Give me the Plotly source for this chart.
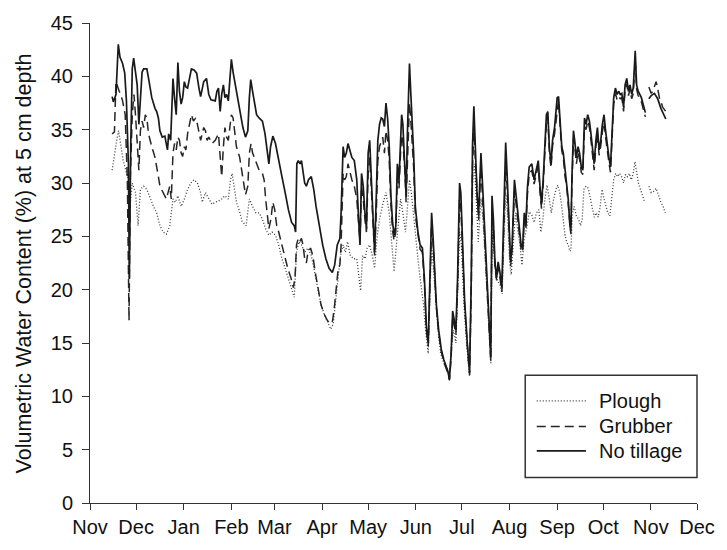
import pandas as pd
import plotly.graph_objects as go

# Daily soil moisture readings, as days after 1 November (first season)
START = pd.Timestamp("2009-11-01")

NT_DAYS = [14.4, 15.2, 16.9, 18.4, 19.5, 21.2, 22.6, 23.7, 25.0, 25.6, 26.5, 27.5, 28.4, 29.6, 30.7,
           31.8, 32.8, 33.9, 34.9, 37.0, 38.1, 40.2, 42.3, 43.4, 44.5, 45.5, 47.0, 48.7, 50.4, 51.2,
           52.5, 54.0, 55.0, 56.1, 57.2, 58.2, 59.3, 60.3, 61.4, 62.4, 63.5, 64.6, 66.0, 67.7, 69.4,
           70.9, 72.0, 74.0, 75.8, 77.3, 78.7, 81.5, 82.6, 83.6, 84.7, 85.7, 86.8, 87.8, 88.9, 90.0,
           91.0, 92.0, 93.1, 94.2, 95.3, 96.3, 97.4, 99.5, 101.2, 102.7, 103.7, 104.6, 105.8, 106.9,
           108.4, 110.0, 112.2, 113.9, 115.4, 116.4, 117.5, 119.0, 120.7, 122.3, 124.9, 127.0, 129.1,
           131.2, 132.9, 133.8, 134.6, 135.5, 136.7, 137.6, 138.6, 139.7, 140.8, 142.2, 144.0, 145.6,
           147.1, 149.2, 151.4, 153.5, 155.6, 157.7, 159.2, 160.9, 162.6, 163.4, 164.7, 165.7, 166.8,
           167.9, 168.9, 170.4, 172.0, 173.6, 174.6, 175.7, 176.7, 177.8, 178.9, 179.9, 181.0, 182.0,
           183.1, 184.2, 185.2, 186.3, 187.3, 188.4, 189.5, 190.5, 191.6, 192.6, 193.7, 194.7, 195.8,
           196.9, 197.9, 199.0, 200.0, 201.1, 202.1, 202.8, 203.6, 204.9, 205.7, 206.6, 207.9, 208.7,
           209.6, 210.6, 211.7, 213.4, 214.8, 216.3, 217.6, 218.9, 220.1, 221.2, 222.3, 223.3, 224.4,
           225.4, 226.9, 228.6, 230.3, 231.8, 232.8, 233.9, 235.0, 236.0, 237.1, 238.1, 239.2, 240.5,
           241.3, 242.4, 243.8, 245.5, 247.0, 248.1, 248.9, 249.8, 250.8, 251.9, 252.9, 254.4, 255.7,
           257.2, 258.7, 259.9, 260.8, 261.6, 262.5, 263.5, 264.6, 265.6, 266.7, 268.0, 269.2, 270.5,
           271.4, 272.6, 273.7, 274.7, 276.2, 277.3, 278.3, 279.4, 280.5, 281.5, 282.6, 283.6, 284.7,
           285.8, 287.5, 289.0, 290.5, 291.7, 292.8, 293.8, 294.9, 296.0, 297.0, 297.9, 298.9, 300.0,
           301.0, 302.3, 303.2, 304.0, 304.9, 305.9, 307.0, 308.0, 309.1, 310.1, 311.2, 312.3, 312.9,
           313.7, 314.6, 315.4, 316.5, 317.6, 318.6, 319.7, 320.7, 321.8, 322.8, 323.9, 325.0, 326.0,
           327.1, 328.1, 329.2, 330.2, 331.3, 332.4, 333.4, 334.5, 335.5, 336.6, 337.7, 338.7, 339.8,
           340.8, 341.9, 343.0, 344.0, 345.1, 346.1, 347.2, 348.2, 349.3, 350.4, 351.4, 352.5, 353.5,
           354.2, 354.8, 355.7, 356.7, 357.8, 358.8, 359.9, 361.4, 362.5, 363.7, 365.2, 367.3, 369.4,
           371.5, 372.6, 373.7, 374.7]
NT_VALS = [38.1, 37.6, 38.3, 43.0, 41.8, 41.2, 40.3, 37.7, 31.8, 21.0, 33.4, 40.7, 41.7, 40.4, 39.2,
           35.5, 37.7, 40.4, 40.7, 40.7, 39.8, 38.0, 37.0, 36.7, 36.1, 34.9, 34.3, 34.4, 33.1, 34.6,
           34.0, 39.8, 38.0, 36.4, 41.3, 38.6, 37.4, 38.0, 39.5, 39.0, 38.9, 39.8, 40.7, 40.6, 40.3,
           38.9, 38.1, 39.5, 39.8, 38.3, 37.8, 37.7, 38.6, 38.9, 36.7, 38.3, 39.2, 38.0, 38.3, 37.7,
           40.1, 41.6, 40.4, 39.5, 38.8, 38.0, 37.2, 35.2, 34.3, 34.9, 38.0, 39.7, 38.6, 37.7,
           36.4, 36.1, 35.8, 34.6, 33.1, 31.8, 33.4, 34.4, 33.7, 32.4, 30.6, 29.1, 27.5,
           26.3, 26.0, 25.4, 31.8, 32.1, 31.8, 32.1, 31.2, 30.0, 29.7, 30.3, 30.6, 29.4,
           27.8, 26.0, 24.2, 22.9, 22.0, 21.6, 22.3, 24.2, 24.8, 27.2, 33.4, 32.4, 32.8,
           33.7, 33.1, 32.4, 32.1, 30.3, 27.2, 24.2, 30.9, 29.7, 27.2, 25.7, 32.8, 34.0,
           30.3, 27.2, 23.5, 28.8, 34.0, 35.5, 36.1, 36.0, 35.3, 37.5, 36.0, 33.5, 28.8,
           26.3, 25.1, 26.0, 31.8, 30.3, 34.0, 36.4, 35.5, 32.1, 28.8, 34.9, 41.2, 38.6,
           36.4, 32.8, 27.8, 25.4, 24.2, 23.9, 21.1, 16.5, 15.0, 21.1, 27.2, 24.8, 21.4,
           18.6, 16.2, 14.4, 13.4, 12.8, 12.4, 11.6, 14.0, 18.0, 16.8, 16.2, 21.1, 30.0,
           29.1, 24.2, 18.9, 15.0, 12.2, 21.1, 33.4, 37.2, 33.4, 28.8, 27.2, 32.8, 29.1,
           24.2, 19.6, 16.5, 13.7, 28.8, 26.6, 22.6, 21.1, 22.6, 21.7, 20.2, 27.2, 33.8,
           30.9, 25.7, 22.6, 24.2, 30.3, 28.8, 27.2, 26.0, 24.2, 23.9, 27.2, 26.0, 29.7,
           31.5, 31.8, 30.3, 31.5, 32.1, 29.7, 28.0, 30.3, 34.0, 36.4, 36.7, 33.4, 31.8,
           34.0, 35.2, 36.4, 38.0, 38.1, 35.8, 33.4, 32.8, 31.2, 30.3, 28.5, 26.0, 25.5,
           30.9, 34.9, 34.0, 32.4, 33.4, 32.8, 31.5, 31.2, 36.1, 35.5, 36.4, 35.8, 34.6,
           32.8, 31.8, 34.0, 35.2, 33.1, 34.0, 35.5, 36.4, 34.9, 33.4, 32.4, 31.5, 35.2,
           38.0, 38.9, 38.3, 38.6, 38.3, 38.4, 37.1, 39.2, 39.8, 38.6, 39.2, 38.3, 38.9,
           40.7, 42.4, 39.2, 38.6, 38.3, 38.0, 37.4, 36.6, None, 37.9, 38.2, 38.4, 37.9,
           37.0, 36.6, 36.2, 36.0]

GR_DAYS = [14.4, 15.9, 16.9, 18.0, 19.0, 20.0, 21.2, 22.9, 24.3, 25.4, 26.2, 27.5, 28.6, 29.6, 30.7,
           31.8, 32.8, 33.9, 34.9, 36.0, 37.0, 38.1, 40.2, 42.3, 44.5, 45.5, 47.6, 49.7, 50.8, 51.9,
           52.9, 54.0, 55.0, 56.1, 57.2, 58.2, 59.3, 60.3, 61.4, 62.4, 63.5, 64.6, 66.0, 67.3, 68.8,
           69.9, 72.0, 74.0, 75.1, 76.2, 77.3, 79.4, 81.5, 83.6, 84.7, 85.7, 86.8, 87.8, 88.9, 90.0,
           91.0, 92.0, 93.1, 94.2, 95.3, 97.4, 99.5, 101.2, 102.7, 103.7, 104.8, 105.8, 106.9, 108.4,
           110.1, 112.2, 113.3, 114.3, 115.4, 116.4, 117.7, 119.0, 120.2, 121.5, 122.8, 124.5, 126.6,
           128.7, 130.8, 132.3, 133.4, 134.4, 135.5, 136.5, 137.6, 138.6, 139.7, 140.8, 141.8, 143.5,
           145.0, 146.5, 148.2, 150.3, 152.4, 154.5, 156.6, 157.9, 159.2, 160.5, 161.5, 162.6, 163.4,
           164.7, 165.7, 166.8, 167.9, 168.9, 170.4, 172.0, 173.6, 174.6, 175.7, 176.7, 177.8, 178.9,
           179.9, 181.0, 182.0, 183.1, 184.2, 185.2, 186.3, 187.3, 188.4, 189.5, 190.5, 191.6, 192.6,
           193.7, 194.7, 195.8, 196.9, 197.9, 199.0, 200.0, 201.1, 202.1, 202.8, 203.6, 204.9, 205.7,
           206.6, 207.9, 208.7, 209.6, 210.6, 211.7, 213.4, 214.8, 216.3, 217.6, 218.9, 220.1, 221.2,
           222.3, 223.3, 224.4, 225.4, 226.9, 228.6, 230.3, 231.8, 232.8, 233.9, 235.0, 236.0, 237.1,
           238.1, 239.2, 240.5, 241.3, 242.4, 243.8, 245.5, 247.0, 248.1, 248.9, 249.8, 250.8, 251.9,
           252.9, 254.4, 255.7, 257.2, 258.7, 259.9, 260.8, 261.6, 262.5, 263.5, 264.6, 265.6, 266.7,
           268.0, 269.2, 270.5, 271.4, 272.6, 273.7, 274.7, 276.2, 277.3, 278.3, 279.4, 280.5, 281.5,
           282.6, 283.6, 284.7, 285.8, 287.5, 289.0, 290.5, 291.7, 292.8, 293.8, 294.9, 296.0, 297.0,
           297.9, 298.9, 300.0, 301.0, 302.3, 303.2, 304.0, 304.9, 305.9, 307.0, 308.0, 309.1, 310.1,
           311.2, 312.3, 312.9, 313.7, 314.6, 315.4, 316.5, 317.6, 318.6, 319.7, 320.7, 321.8, 322.8,
           323.9, 325.0, 326.0, 327.1, 328.1, 329.2, 330.2, 331.3, 332.4, 333.4, 334.5, 335.5, 336.6,
           337.7, 338.7, 339.8, 340.8, 341.9, 343.0, 344.0, 345.1, 346.1, 347.2, 348.2, 349.3, 350.4,
           351.4, 352.5, 353.5, 354.2, 354.8, 355.7, 356.7, 357.8, 358.8, 359.9, 361.4, 362.5, 363.7,
           365.2, 366.2, 367.3, 368.4, 369.4, 370.5, 371.5, 372.6, 373.7, 374.7]
GR_VALS = [34.6, 34.8, 39.5, 38.9, 38.6, 38.3, 37.7, 36.4, 30.3, 17.1, 30.3, 36.4, 38.3, 36.4, 34.0,
           31.2, 34.9, 35.8, 35.2, 36.4, 36.1, 34.6, 33.4, 32.4, 30.6, 29.7, 29.1, 28.5, 29.1, 29.7,
           28.5, 32.8, 33.7, 33.1, 34.3, 34.0, 32.8, 32.5, 33.4, 33.1, 34.6, 35.5, 36.4, 35.8, 36.1,
           35.5, 34.0, 35.2, 34.9, 34.0, 34.3, 33.7, 34.0, 34.6, 32.8, 30.6, 33.4, 35.2, 34.3, 34.0,
           35.2, 36.4, 36.1, 34.9, 33.4, 32.4, 30.6, 28.9, 29.7, 32.8, 33.7, 32.8, 32.4, 31.8,
           31.2, 30.9, 30.3, 28.5, 27.2, 25.7, 26.6, 28.2, 27.5, 26.0, 25.4, 24.5, 23.2,
           22.0, 21.1, 20.2, 21.1, 24.2, 24.8, 24.5, 24.8, 24.2, 22.9, 22.5, 23.5, 23.9,
           23.2, 21.7, 20.2, 18.6, 17.7, 17.1, 16.8, 17.1, 18.6, 20.8, 22.0, 22.3, 24.2,
           30.9, 30.3, 30.6, 31.8, 31.2, 30.3, 29.7, 28.5, 26.6, 24.5, 29.7, 28.5, 26.6,
           25.4, 30.9, 32.4, 29.4, 26.6, 23.2, 27.2, 32.1, 33.4, 34.0, 34.3, 32.8, 34.9,
           34.0, 32.2, 28.0, 25.5, 24.6, 25.4, 30.5, 29.5, 32.8, 34.5, 33.8, 31.2, 28.2,
           32.5, 37.5, 36.0, 34.2, 31.5, 27.0, 25.0, 23.8, 23.5, 20.6, 16.2, 14.7, 20.4,
           26.2, 24.2, 21.0, 18.3, 15.9, 14.2, 13.2, 12.6, 12.2, 11.5, 13.6, 17.4, 16.4,
           15.8, 20.3, 28.5, 27.8, 23.5, 18.5, 14.8, 12.0, 20.0, 31.5, 34.8, 32.0, 28.0,
           26.5, 31.5, 28.3, 23.6, 19.2, 16.2, 13.3, 27.5, 25.8, 22.2, 20.9, 22.0, 21.2,
           19.8, 26.0, 31.5, 29.8, 25.0, 22.2, 23.8, 29.2, 28.0, 26.6, 25.5, 23.8, 23.5,
           26.5, 25.6, 29.0, 30.8, 31.2, 29.9, 31.0, 31.6, 29.2, 27.6, 29.8, 33.4, 35.6,
           36.2, 33.0, 31.4, 33.5, 34.6, 35.9, 37.2, 37.8, 35.4, 33.0, 32.4, 30.6, 29.8,
           27.9, 25.6, 25.2, 30.2, 34.2, 33.5, 31.8, 32.9, 32.2, 31.0, 30.8, 35.3, 35.0,
           35.8, 35.2, 34.0, 32.3, 31.2, 33.4, 34.6, 32.6, 33.5, 34.8, 35.7, 34.3, 32.8,
           31.9, 31.0, 34.6, 37.4, 38.4, 37.8, 38.1, 37.9, 38.0, 36.7, 38.7, 39.3, 38.2,
           38.8, 37.9, 38.4, 40.0, 41.5, 38.8, 38.2, 37.9, 37.6, 37.0, 36.2, None, 39.0,
           38.4, 38.6, 39.0, 39.5, 38.9, 38.0, 37.7, 37.1, 36.9, 36.7]

PL_DAYS = [14.4, 15.9, 17.4, 18.6, 20.0, 21.6, 23.3, 25.0, 25.8, 27.5, 29.6, 31.3, 32.8, 34.9, 37.0,
           39.2, 41.3, 43.4, 45.5, 47.6, 49.7, 51.9, 54.0, 55.5, 57.2, 59.3, 61.4, 63.5, 65.6, 67.7,
           69.9, 72.0, 73.0, 75.1, 77.3, 79.4, 81.5, 83.6, 85.7, 87.8, 90.0, 91.4, 92.5, 93.6, 95.3,
           97.4, 99.0, 101.6, 103.7, 105.8, 108.0, 110.1, 112.2, 114.3, 116.4, 118.5, 120.7, 122.8,
           124.9, 127.0, 129.1, 131.2, 132.9, 134.4, 135.9, 137.6, 139.7, 141.8, 144.0, 146.1, 148.2,
           150.3, 152.4, 154.5, 156.6, 158.3, 159.8, 161.3, 163.0, 164.7, 166.2, 167.6, 169.4, 171.5,
           173.6, 175.1, 176.1, 177.4, 178.9, 180.4, 182.0, 183.7, 185.2, 186.7, 188.4, 190.5, 192.6,
           194.7, 196.4, 197.9, 199.4, 200.7, 202.1, 203.6, 205.3, 207.0, 207.9, 209.1, 210.6, 212.1,
           213.8, 215.5, 217.0, 218.4, 220.1, 221.2, 222.3, 223.3, 224.8, 226.5, 228.2, 230.3, 232.4,
           233.9, 235.4, 236.6, 238.1, 239.2, 240.5, 241.7, 243.4, 245.1, 247.0, 248.1, 249.1, 250.2,
           251.5, 252.7, 254.4, 255.7, 257.4, 258.7, 259.9, 260.8, 261.8, 262.9, 264.2, 265.2, 266.7,
           268.2, 269.2, 270.5, 271.6, 273.1, 274.1, 275.6, 276.9, 278.3, 279.8, 281.1, 282.6, 284.1,
           285.8, 287.5, 289.0, 290.5, 292.1, 293.4, 294.7, 296.0, 297.4, 298.9, 300.2, 301.7, 303.2,
           304.4, 305.7, 307.0, 308.0, 309.1, 310.1, 311.2, 312.3, 312.9, 314.0, 315.0, 316.5, 318.0,
           319.2, 320.3, 321.4, 322.8, 324.3, 325.6, 327.1, 328.1, 329.4, 330.7, 332.0, 333.2, 334.5,
           335.8, 337.0, 338.3, 339.6, 340.8, 342.1, 343.4, 344.6, 345.9, 347.2, 348.5, 349.7, 351.0,
           352.3, 353.5, 354.6, 355.7, 356.9, 358.2, 359.5, 361.0, 362.5, 363.7, 365.2, 366.7, 368.4,
           370.1, 371.5, 373.0, 374.3]
PL_VALS = [31.2, 32.8, 34.0, 34.9, 33.4, 32.1, 31.2, 30.3, 27.5, 30.0, 29.1, 26.0, 29.4, 29.7, 29.4,
           28.5, 27.8, 27.2, 26.0, 25.4, 25.2, 26.0, 28.5, 28.2, 28.8, 27.8, 28.5, 29.4, 30.0, 30.3,
           30.0, 29.1, 28.2, 29.1, 28.5, 28.0, 28.2, 28.3, 28.5, 28.8, 28.5, 30.3, 30.9, 29.7, 28.2,
           27.3, 26.4, 26.0, 28.5, 27.8, 27.2, 27.2, 26.6, 25.7, 25.1, 25.4, 25.1, 24.2,
           22.9, 22.0, 21.1, 20.2, 19.3, 23.5, 24.5, 24.2, 23.5, 23.9, 23.2, 21.7, 20.2,
           18.6, 17.7, 17.0, 16.3, 16.8, 18.9, 21.1, 23.2, 24.2, 23.5, 24.5, 23.2, 22.9,
           22.9, 21.1, 19.9, 23.2, 22.9, 23.9, 24.2, 23.2, 22.0, 24.8, 26.6, 28.0, 29.1,
           27.2, 24.2, 21.7, 24.2, 26.0, 28.5, 27.2, 25.4, 28.5, 30.3, 29.1, 27.2, 24.8,
           22.3, 20.5, 18.6, 16.2, 14.0, 19.6, 24.2, 22.3, 19.3, 16.2, 14.0, 13.1, 12.5,
           11.9, 15.0, 16.2, 15.0, 19.6, 25.4, 24.2, 18.6, 15.0, 11.9, 19.6, 30.3, 31.8,
           27.2, 24.5, 28.5, 26.6, 22.3, 18.6, 15.0, 13.1, 25.4, 23.5, 21.1, 20.8, 20.5,
           19.6, 24.8, 29.1, 27.2, 22.6, 21.4, 24.2, 27.2, 25.7, 24.2, 22.3, 24.8, 25.7,
           27.3, 27.0, 26.3, 27.2, 27.5, 25.4, 26.6, 28.5, 29.8, 28.5, 27.2, 28.5, 29.4,
           29.8, 29.1, 27.8, 26.3, 25.1, 24.5, 24.2, 23.6, 23.7, 27.2, 27.8, 26.9, 26.6,
           26.0, 26.6, 29.4, 29.7, 29.5, 28.5, 27.2, 26.8, 27.2, 26.8, 27.8, 29.4, 28.5,
           27.8, 27.2, 26.9, 29.1, 30.3, 30.9, 30.6, 30.9, 30.6, 30.0, 30.8, 30.6, 30.9,
           30.3, 30.9, 32.0, 30.9, 30.0, 29.4, 28.8, 28.2, None, 29.7, 29.1, 29.2, 29.5,
           28.8, 28.2, 27.8, 27.2]

SERIES = [
    ("Plough", PL_DAYS, PL_VALS, dict(color="#3a3a3a", width=1.3, dash="1px,2px")),
    ("Grubber", GR_DAYS, GR_VALS, dict(color="#262626", width=1.5, dash="9px,5px")),
    ("No tillage", NT_DAYS, NT_VALS, dict(color="#1a1a1a", width=1.7, dash="solid")),
]

MONTH_TICKS = pd.date_range("2009-11-01", "2010-12-01", freq="MS")

FONT = "Liberation Sans, Arial, sans-serif"
TEXT_COLOR = "#111111"
AXIS_COLOR = "#333333"

fig = go.Figure()
for name, days, vals, line in SERIES:
    fig.add_trace(go.Scatter(
        x=[START + pd.Timedelta(days=d) for d in days],
        y=vals,
        mode="lines",
        name=name,
        line=line,
        connectgaps=False,
        showlegend=False,
    ))

# Boxed key in the lower right corner of the plotting area
KEY_BOX = dict(x0=0.717, x1=1.0, y0=0.053, y1=0.266)
KEY_ROWS = [0.2127, 0.1595, 0.1084]
KEY_LINE_X = (0.736, 0.817)
KEY_TEXT_X = 0.836

shapes = [dict(type="rect", xref="paper", yref="paper", **KEY_BOX,
               line=dict(color=AXIS_COLOR, width=1.5), fillcolor="white", layer="above")]
annotations = []
for (name, _, _, line), ky in zip(SERIES, KEY_ROWS):
    shapes.append(dict(type="line", xref="paper", yref="paper",
                       x0=KEY_LINE_X[0], x1=KEY_LINE_X[1], y0=ky, y1=ky,
                       line=dict(color=line["color"], width=line["width"], dash=line["dash"]),
                       layer="above"))
    annotations.append(dict(text=name, xref="paper", yref="paper", x=KEY_TEXT_X, y=ky,
                            xanchor="left", yanchor="middle", showarrow=False,
                            font=dict(family=FONT, size=20, color=TEXT_COLOR)))

# Vertical axis caption, placed to the left of the tick labels
annotations.append(dict(text="Volumetric Water Content (%) at 5 cm depth",
                        xref="paper", yref="paper", x=-0.108, y=0.5,
                        xanchor="center", yanchor="middle", textangle=-90, showarrow=False,
                        font=dict(family=FONT, size=21.5, color=TEXT_COLOR)))

fig.update_layout(
    width=727,
    height=550,
    margin=dict(l=90, r=15, t=17, b=44),
    paper_bgcolor="white",
    plot_bgcolor="white",
    font=dict(family=FONT, size=20, color=TEXT_COLOR),
    showlegend=False,
    shapes=shapes,
    annotations=annotations,
    xaxis=dict(
        type="date",
        range=[MONTH_TICKS[0], MONTH_TICKS[-1]],
        tickvals=list(MONTH_TICKS),
        ticktext=[d.strftime("%b") for d in MONTH_TICKS],
        ticklabeloverflow="allow",
        ticks="outside", ticklen=6, tickwidth=1, tickcolor=AXIS_COLOR,
        showline=True, linecolor=AXIS_COLOR, linewidth=1,
        showgrid=False, zeroline=False,
    ),
    yaxis=dict(
        range=[0, 45],
        tickvals=list(range(0, 46, 5)),
        ticks="outside", ticklen=7, tickwidth=1, tickcolor=AXIS_COLOR,
        ticklabelstandoff=5,
        showline=True, linecolor=AXIS_COLOR, linewidth=1,
        showgrid=False, zeroline=False,
    ),
)

fig.write_html("out.html")
